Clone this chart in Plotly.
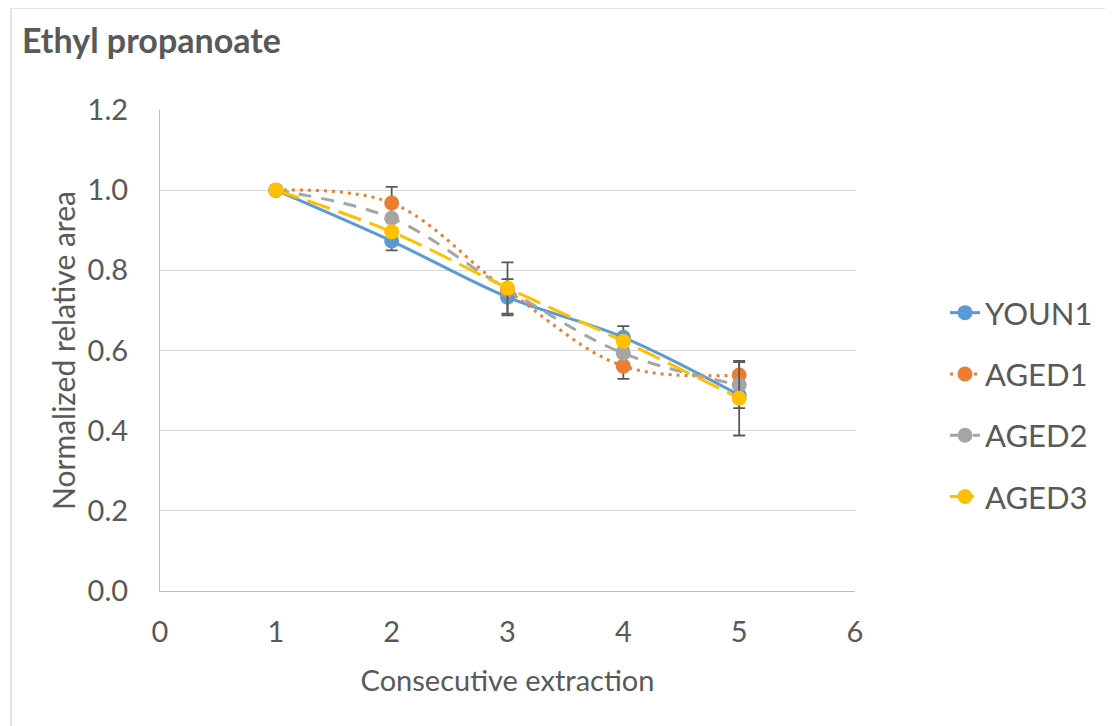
import plotly.graph_objects as go

extraction = [1, 2, 3, 4, 5]
youn1 = [1.0, 0.873, 0.733, 0.633, 0.489]
aged1 = [1.0, 0.968, 0.750, 0.561, 0.539]
aged2 = [1.0, 0.930, 0.752, 0.593, 0.514]
aged3 = [1.0, 0.896, 0.756, 0.623, 0.481]
err_youn1 = [0.0, 0.023, 0.045, 0.028, 0.033]
err_aged1 = [0.0, 0.040, 0.0, 0.032, 0.032]
err_aged3 = [0.0, 0.0, 0.064, 0.0, 0.093]

FONT = "Lato"
TXT = "#595959"

series = [
    ("YOUN1", youn1, err_youn1, "#5B9BD5", "solid"),
    ("AGED1", aged1, err_aged1, "#ED7D31", "3px,5px"),
    ("AGED2", aged2, None, "#A5A5A5", "13px,10px"),
    ("AGED3", aged3, err_aged3, "#FFC000", "24px,9px"),
]

fig = go.Figure()
for name, ys, err, color, dash in series:
    kw = {}
    if err is not None:
        kw["error_y"] = dict(type="data", array=err, visible=True,
                             color="#595959", thickness=1.8, width=6)
    fig.add_trace(go.Scatter(
        x=extraction, y=ys, name=name, mode="lines+markers",
        line=dict(color=color, width=3, dash=dash, shape="spline", smoothing=1),
        marker=dict(color=color, size=15),
        legendgroup=name,
        **kw))

OFF = 8  # page body offset
W, H = 1113, 726
L, R, T, B = 160 - OFF, 855 - OFF, 110 - OFF, 591 - OFF

def px(x):
    return (x - OFF - L) / (R - L)

def py(y):
    return (B - (y - OFF)) / (B - T)

fig.update_layout(
    width=W, height=H,
    margin=dict(l=L, r=W - R, t=T, b=H - B),
    paper_bgcolor="white", plot_bgcolor="white",
    font=dict(family=FONT, color=TXT, size=29),
    title=dict(text="<b>Ethyl propanoate</b>", x=(22 - OFF) / W, xanchor="left",
               y=1 - (41 - OFF) / H, yanchor="middle",
               font=dict(family=FONT, size=34, color=TXT)),
    xaxis=dict(range=[0, 6], dtick=1, tick0=0, showgrid=False,
               showline=True, linecolor="#BFBFBF", linewidth=1.2,
               zeroline=False, ticks="", ticklabelstandoff=15,
               tickfont=dict(size=29, color=TXT),
               title=dict(text="Consecutive extraction", standoff=23,
                          font=dict(size=29, color=TXT))),
    yaxis=dict(range=[0, 1.2], dtick=0.2, tick0=0, tickformat=".1f",
               showgrid=True, gridcolor="#D9D9D9", gridwidth=1,
               showline=True, linecolor="#BFBFBF", linewidth=1.2,
               zeroline=False, ticks="", ticklabelstandoff=25,
               tickfont=dict(size=29, color=TXT),
               title=dict(text="Normalized relative area", standoff=3,
                          font=dict(size=30, color=TXT))),
    legend=dict(x=px(945), y=py(286), xanchor="left", yanchor="top",
                font=dict(size=31, color=TXT), tracegroupgap=18,
                bgcolor="rgba(0,0,0,0)"),
    showlegend=True,
    shapes=[
        dict(type="line", xref="paper", yref="paper",
             x0=px(11), x1=px(W + 20), y0=py(8), y1=py(8),
             line=dict(color="#D9D9D9", width=1.5)),
        dict(type="line", xref="paper", yref="paper",
             x0=px(11), x1=px(11), y0=py(8), y1=py(H + 20),
             line=dict(color="#D9D9D9", width=1.5)),
    ],
)

fig.write_html("out.html")
